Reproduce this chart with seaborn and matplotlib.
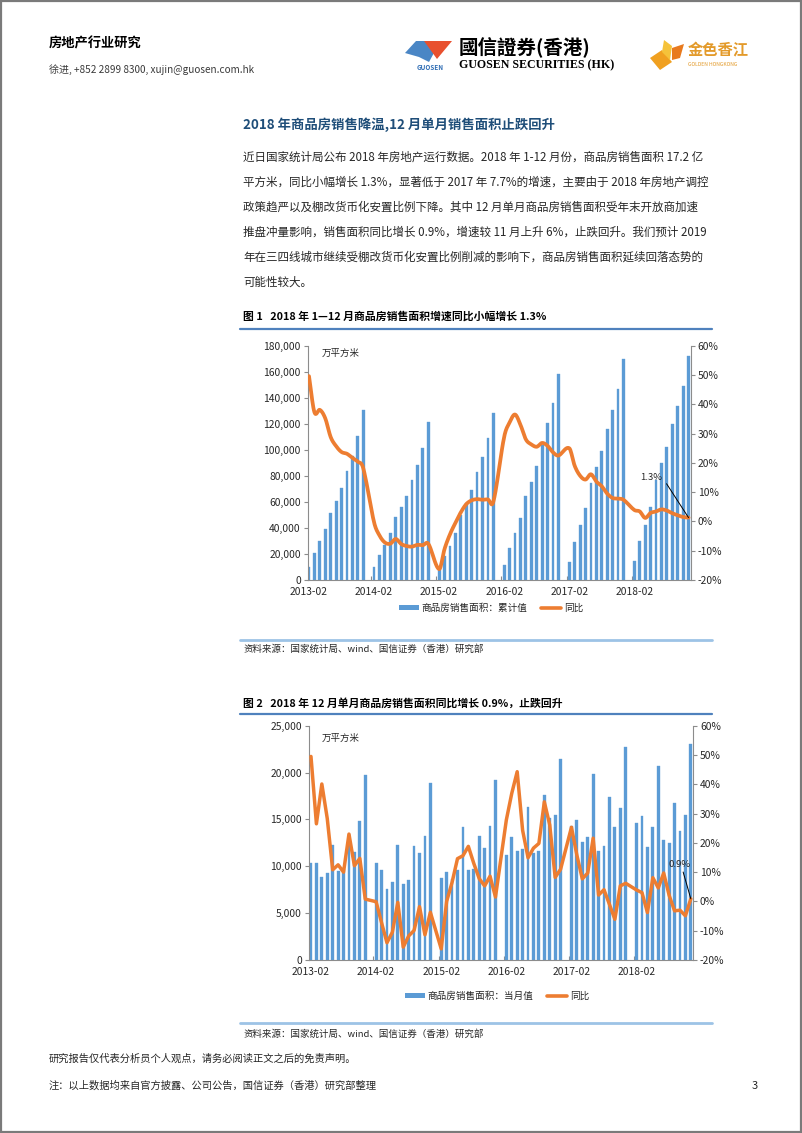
import numpy as np
import pandas as pd
import matplotlib
matplotlib.use("Agg")
import matplotlib.pyplot as plt
import seaborn as sns
from matplotlib.patches import Rectangle, Polygon
from matplotlib.lines import Line2D

# ---------------- data ----------------
months = [f"{y}-{m:02d}" for y in range(2013, 2019) for m in range(2, 13)]  # Jan not published

cum_area = [
    10180, 20480, 29800, 38920, 51300, 60900, 70670, 84100, 95600, 110700, 130450,
    9720, 19300, 27200, 36200, 48400, 56330, 64780, 76700, 88600, 101500, 121100,
    8500, 18200, 26400, 36100, 49900, 59000, 69100, 83000, 94700, 108800, 128000,
    11500, 24300, 36100, 47900, 64500, 75500, 87300, 103700, 120300, 135700, 158000,
    14100, 28900, 42000, 55100, 74500, 86500, 98800, 115700, 130600, 146700, 169700,
    14900, 30000, 42200, 56100, 76800, 89900, 102200, 119600, 133700, 148800, 172100]

cum_yoy = [
    49.6, 37.3, 38.1, 35.2, 28.8, 25.7, 23.7, 23.1, 21.7, 20.4, 18.2,
    -0.3, -4.8, -7.2, -7.6, -6.0, -7.7, -8.4, -8.6, -8.0, -8.1, -7.6,
    -16.3, -9.4, -4.4, -0.5, 3.1, 5.9, 7.2, 7.6, 7.4, 7.5, 6.7,
    28.9, 33.8, 36.5, 33.0, 28.0, 26.3, 25.5, 26.8, 25.8, 23.6, 22.5,
    25.0, 19.0, 15.6, 14.3, 16.1, 13.6, 12.0, 9.5, 8.0, 7.8, 7.4,
    3.9, 3.4, 1.2, 2.9, 3.4, 4.1, 3.7, 2.8, 2.1, 1.5, 1.3]

mon_area = [
    10400, 10400, 8900, 9300, 12300, 9500, 9700, 13400, 11500, 14850, 19700,
    10400, 9600, 7570, 8290, 12320, 8100, 8520, 12160, 11380, 13250, 18920,
    8780, 9420, 8600, 9550, 14220, 9570, 9670, 13230, 11980, 14300, 19200,
    11200, 13090, 11660, 11800, 16290, 11380, 11630, 17600, 15200, 15470, 21450,
    14250, 14940, 12590, 13090, 19810, 11660, 12160, 17390, 14220, 16250, 22760,
    14620, 15360, 12060, 14150, 20700, 12800, 12450, 16790, 13760, 15470, 23010]

mon_yoy = [
    49.5, 26.5, 40.1, 28.3, 10.8, 12.5, 10.0, 23.0, 12.2, 14.7, 0.8,
    -0.1, -7.2, -14.1, -10.5, -0.3, -15.6, -11.8, -9.9, -1.8, -11.4, -3.7,
    -16.2, 0.0, 6.5, 14.6, 15.6, 18.8, 13.0, 7.8, 5.3, 8.6, 1.5,
    27.8, 36.9, 44.3, 24.3, 14.9, 18.2, 19.8, 34.0, 26.1, 8.2, 11.0,
    25.3, 15.8, 7.7, 9.7, 21.6, 2.2, 4.0, -1.0, -6.1, 5.3, 6.2,
    3.9, 3.0, -3.8, 8.1, 4.6, 9.7, 2.1, -3.2, -3.0, -4.9, 0.9]

tick_months = ["2013-02", "2014-02", "2015-02", "2016-02", "2017-02", "2018-02"]
left1_ticks = [0, 20000, 40000, 60000, 80000, 100000, 120000, 140000, 160000, 180000]
left2_ticks = [0, 5000, 10000, 15000, 20000, 25000]
right_ticks = [-20, -10, 0, 10, 20, 30, 40, 50, 60]

BLUE = "#5B9BD5"
ORANGE = "#ED7D31"
GRAY = "#8c8c8c"
TXT = "#262626"

def month_pos(s):
    y, m = s.split("-")
    return (int(y) - 2013) * 12 + int(m) - 2

pos = np.array([month_pos(m) for m in months], dtype=float)

def smooth(xs, ys, n=10):
    xs = np.asarray(xs, float); ys = np.asarray(ys, float)
    m = np.zeros_like(ys)
    m[1:-1] = (ys[2:] - ys[:-2]) / (xs[2:] - xs[:-2])
    m[0] = (ys[1] - ys[0]) / (xs[1] - xs[0])
    m[-1] = (ys[-1] - ys[-2]) / (xs[-1] - xs[-2])
    ox, oy = [], []
    for k in range(len(xs) - 1):
        h = xs[k + 1] - xs[k]
        t = np.linspace(0, 1, n, endpoint=False)
        h00 = 2 * t**3 - 3 * t**2 + 1
        h10 = t**3 - 2 * t**2 + t
        h01 = -2 * t**3 + 3 * t**2
        h11 = t**3 - t**2
        ox.extend(xs[k] + t * h)
        oy.extend(h00 * ys[k] + h10 * h * m[k] + h01 * ys[k + 1] + h11 * h * m[k + 1])
    ox.append(xs[-1]); oy.append(ys[-1])
    return np.array(ox), np.array(oy)

# ---------------- figure ----------------
sns.set_theme(style="white")
plt.rcParams['font.family'] = ['Noto Sans CJK SC', 'DejaVu Sans']
plt.rcParams['axes.unicode_minus'] = False

W, H = 802, 1133
fig = plt.figure(figsize=(W / 100, H / 100), dpi=100)
fig.patch.set_facecolor("white")

def rect(l, t, r, b):
    return [l / W, 1 - b / H, (r - l) / W, (b - t) / H]

# overlay in pixel coordinates
ov = fig.add_axes([0, 0, 1, 1], zorder=0)
ov.set_xlim(0, W); ov.set_ylim(H, 0); ov.axis("off")

# page border
ov.add_patch(Rectangle((1, 1), W - 2.5, H - 2.5, fill=False, edgecolor="#7a7a7a", lw=1.6))

# header
ov.text(49, 43, "房地产行业研究", fontsize=9.5, fontweight="bold", color="black", va="center")
ov.text(49, 70, "徐进, +852 2899 8300, xujin@guosen.com.hk", fontsize=7.2, color="#3a3a3a", va="center")

# Guosen logo
ov.add_patch(Polygon([(405, 53), (416, 41), (429, 41), (435, 51), (429, 62), (419, 57)], closed=True,
                     facecolor="#4A86C5", edgecolor="none"))
ov.add_patch(Polygon([(424, 41), (452, 41), (437, 59)], closed=True, facecolor="#E8502E", edgecolor="none"))
ov.text(430, 67, "GUOSEN", fontsize=4.6, color="#2F6DB5", ha="center", va="center", fontweight="bold")
ov.text(459, 48, "國信證券(香港)", fontsize=14, fontweight="bold", color="black", va="center",
        family=["Noto Sans CJK TC", "DejaVu Sans"])
ov.text(459, 65, "GUOSEN SECURITIES (HK)", fontsize=8.6, color="black", va="center",
        family=["Liberation Serif"], fontweight="bold")
# golden logo
ov.add_patch(Polygon([(650, 58), (662, 50), (672, 62), (660, 70)], closed=True, facecolor="#F0A020", edgecolor="none"))
ov.add_patch(Polygon([(664, 40), (672, 46), (670, 60), (662, 52)], closed=True, facecolor="#F5C23A", edgecolor="none"))
ov.add_patch(Polygon([(672, 48), (684, 44), (680, 58), (672, 60)], closed=True, facecolor="#E87A1E", edgecolor="none"))
ov.text(688, 50, "金色香江", fontsize=11, color="#E39A2A", va="center", fontweight="bold")
ov.text(688, 65, "GOLDEN HONGKONG", fontsize=3.6, color="#E39A2A", va="center")

# section title and paragraph
ov.text(243, 125, "2018 年商品房销售降温,12 月单月销售面积止跌回升", fontsize=9.6,
        fontweight="bold", color="#1F4E79", va="center")
para = [
    "近日国家统计局公布 2018 年房地产运行数据。2018 年 1-12 月份，商品房销售面积 17.2 亿",
    "平方米，同比小幅增长 1.3%，显著低于 2017 年 7.7%的增速，主要由于 2018 年房地产调控",
    "政策趋严以及棚改货币化安置比例下降。其中 12 月单月商品房销售面积受年末开放商加速",
    "推盘冲量影响，销售面积同比增长 0.9%，增速较 11 月上升 6%，止跌回升。我们预计 2019",
    "年在三四线城市继续受棚改货币化安置比例削减的影响下，商品房销售面积延续回落态势的",
    "可能性较大。",
]
for i, line in enumerate(para):
    ov.text(243, 157 + 25 * i, line, fontsize=8.3, color=TXT, va="center")

# figure captions, rules, sources
ov.text(243, 316, "图 1   2018 年 1—12 月商品房销售面积增速同比小幅增长 1.3%", fontsize=7.8,
        fontweight="bold", color="black", va="center")
ov.plot([240, 712], [329, 329], color="#4F81BD", lw=1.6)
ov.plot([240, 712], [640, 640], color="#9DC3E6", lw=2.0)
ov.text(243, 649, "资料来源：国家统计局、wind、国信证券（香港）研究部", fontsize=6.8, color=TXT, va="center")

ov.text(243, 703, "图 2   2018 年 12 月单月商品房销售面积同比增长 0.9%，止跌回升", fontsize=7.8,
        fontweight="bold", color="black", va="center")
ov.plot([240, 712], [714, 714], color="#4F81BD", lw=1.6)
ov.plot([240, 712], [1023, 1023], color="#9DC3E6", lw=2.0)
ov.text(243, 1034, "资料来源：国家统计局、wind、国信证券（香港）研究部", fontsize=6.8, color=TXT, va="center")

# footer
ov.text(49, 1059, "研究报告仅代表分析员个人观点，请务必阅读正文之后的免责声明。", fontsize=7.4, color=TXT, va="center")
ov.text(49, 1086, "注：以上数据均来自官方披露、公司公告，国信证券（香港）研究部整理", fontsize=7.4, color=TXT, va="center")
ov.text(752, 1086, "3", fontsize=8, color=TXT, va="center")


def style_axes(ax, ax2, left_ticks, xlim):
    ax.set_xlim(*xlim)
    ax.set_xticks([month_pos(m) for m in tick_months])
    ax.set_xticklabels(tick_months)
    ax.set_xticks([month_pos(m) - 0.5 for m in tick_months[1:]], minor=True)
    ax.tick_params(axis="x", which="major", length=0, pad=5, labelsize=7.4, labelcolor=TXT)
    ax.tick_params(axis="x", which="minor", direction="in", length=3, width=0.8, color=GRAY, bottom=True)
    ax.set_yticks(left_ticks)
    ax.set_yticklabels([f"{v:,}" for v in left_ticks])
    ax.tick_params(axis="y", direction="out", length=3, width=0.8, color=GRAY, pad=2,
                   labelsize=7.4, labelcolor=TXT, left=True)
    ax.set_ylim(left_ticks[0], left_ticks[-1])
    ax2.set_ylim(-20, 60)
    ax2.set_yticks(right_ticks)
    ax2.set_yticklabels([f"{v}%" for v in right_ticks])
    ax2.tick_params(axis="y", direction="out", length=3, width=0.8, color=GRAY, pad=2,
                    labelsize=7.4, labelcolor=TXT, right=True)
    for a in (ax, ax2):
        a.set_xlabel(""); a.set_ylabel("")
        for s in a.spines.values():
            s.set_color(GRAY); s.set_linewidth(0.8)
        a.spines["top"].set_visible(False)
    ax.spines["right"].set_visible(False)
    ax2.spines["left"].set_visible(False)
    ax2.spines["bottom"].set_visible(False)
    ax.patch.set_alpha(0)
    ax.grid(False); ax2.grid(False)
    for p in ax.patches:
        p.set_edgecolor(BLUE)
        p.set_linewidth(0.25)


# ---------------- chart 1 ----------------
ax1 = fig.add_axes(rect(307.7, 345.7, 690.7, 580), zorder=2)
sns.barplot(x=pos, y=cum_area, native_scale=True, color=BLUE, saturation=1, width=0.52,
            errorbar=None, ax=ax1)
ax1b = ax1.twinx()
sx, sy = smooth(pos, cum_yoy)
sns.lineplot(x=sx, y=sy, estimator=None, sort=False, color=ORANGE, linewidth=2.7, ax=ax1b)
style_axes(ax1, ax1b, left1_ticks, (-0.24, 70.4))
ax1.annotate("万平方米", xy=(322 / W, 1 - 353 / H), xycoords="figure fraction", fontsize=6.8,
             va="center", color=TXT)
ax1b.annotate(f"{cum_yoy[-1]}%", xy=(pos[-1], cum_yoy[-1]), xytext=(65.2, 15.0), textcoords="data",
              fontsize=6.8, ha="right", va="center", color=TXT,
              arrowprops=dict(arrowstyle="-", color="black", lw=0.7, shrinkA=1, shrinkB=0, relpos=(1, 0.5)))
h_bar = Rectangle((0, 0), 1, 1, facecolor=BLUE, edgecolor="none")
h_line = Line2D([0], [0], color=ORANGE, lw=2.6)
ax1.legend([h_bar, h_line], ["商品房销售面积：累计值", "同比"], loc="center",
           bbox_to_anchor=(491 / W, 1 - 608 / H), bbox_transform=fig.transFigure, ncol=2,
           frameon=False, fontsize=6.9, handlelength=2.1, handleheight=0.45, handletextpad=0.3,
           columnspacing=1.4)

# ---------------- chart 2 ----------------
ax2 = fig.add_axes(rect(308.7, 725.7, 693, 960), zorder=2)
sns.barplot(x=pos, y=mon_area, native_scale=True, color=BLUE, saturation=1, width=0.52,
            errorbar=None, ax=ax2)
ax2b = ax2.twinx()
sns.lineplot(x=pos, y=mon_yoy, estimator=None, sort=False, color=ORANGE, linewidth=2.5, ax=ax2b)
style_axes(ax2, ax2b, left2_ticks, (-0.42, 70.4))
ax2.annotate("万平方米", xy=(322 / W, 1 - 738 / H), xycoords="figure fraction", fontsize=6.8,
             va="center", color=TXT)
ax2b.annotate(f"{mon_yoy[-1]}%", xy=(pos[-1], mon_yoy[-1]), xytext=(68.0, 12.7), textcoords="data",
              fontsize=6.8, ha="center", va="center", color=TXT,
              arrowprops=dict(arrowstyle="-", color="black", lw=0.7, shrinkA=0, shrinkB=0, relpos=(0.6, 0)))
ax2.legend([h_bar, h_line], ["商品房销售面积：当月值", "同比"], loc="center",
           bbox_to_anchor=(497 / W, 1 - 996 / H), bbox_transform=fig.transFigure, ncol=2,
           frameon=False, fontsize=6.9, handlelength=2.1, handleheight=0.45, handletextpad=0.3,
           columnspacing=1.4)

fig.savefig("out.png", dpi=100, facecolor="white")
